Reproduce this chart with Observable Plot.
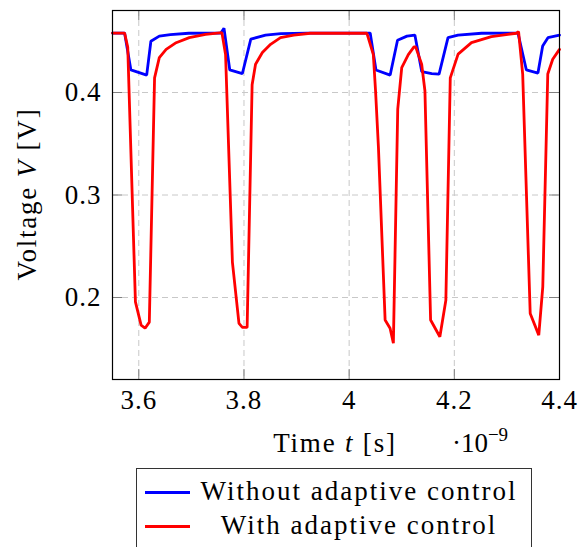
<!DOCTYPE html>
<html><head><meta charset="utf-8">
<script src="https://cdn.jsdelivr.net/npm/d3@7"></script>
<script src="https://cdn.jsdelivr.net/npm/@observablehq/plot@0.6"></script>
<style>
body{margin:0;background:#fff;}
#wrap{position:relative;width:579px;height:547px;overflow:hidden;font-family:'Liberation Serif',serif;background:#fff;}
#wrap svg{position:absolute;left:0;top:0;}
#legend{position:absolute;left:136px;top:468px;width:396px;height:110px;border:1px solid #333;padding-top:6px;box-sizing:border-box;background:#fff;}
.row{display:flex;align-items:center;height:34px;}
.sw{width:45px;height:3px;margin-left:8px;flex:none;}
.lt{width:330px;margin-left:4px;text-align:center;font-size:27px;line-height:34px;letter-spacing:2px;position:relative;top:-1px;white-space:nowrap;}
</style></head><body><div id="wrap"></div>
<script>
// Time in units of 1e-9 s, voltage in V
const tBlue = [3.55,3.573,3.585,3.615,3.623,3.639,3.66,3.695,3.756,3.762,3.773,3.797,3.813,3.841,3.87,3.92,4.04,4.051,4.078,4.092,4.11,4.125,4.138,4.157,4.171,4.188,4.207,4.252,4.321,4.337,4.359,4.368,4.378,4.4];
const vBlue = [0.458,0.458,0.422,0.417,0.450,0.455,0.4565,0.4578,0.458,0.4627,0.422,0.4185,0.452,0.456,0.4575,0.458,0.458,0.422,0.417,0.451,0.455,0.456,0.4204,0.4185,0.418,0.4535,0.456,0.4578,0.458,0.422,0.419,0.4454,0.4535,0.456];
const tRed = [3.55,3.573,3.579,3.5936,3.6044,3.612,3.620,3.630,3.639,3.652,3.671,3.696,3.727,3.758,3.765,3.778,3.7905,3.797,3.806,3.8155,3.822,3.835,3.8506,3.8695,3.8947,3.926,4.0337,4.046,4.0502,4.0557,4.0684,4.0778,4.0841,4.0924,4.100,4.1125,4.1233,4.1265,4.1379,4.1441,4.1549,4.1725,4.1839,4.1923,4.2072,4.2326,4.2705,4.3019,4.3178,4.3222,4.330,4.3443,4.3606,4.3682,4.3777,4.3871,4.398,4.4];
const vRed = [0.458,0.458,0.444,0.1957,0.173,0.170,0.176,0.4143,0.434,0.442,0.4486,0.4535,0.4568,0.4584,0.437,0.2346,0.1747,0.1708,0.1708,0.4075,0.4276,0.439,0.447,0.4535,0.456,0.4578,0.458,0.437,0.4017,0.3465,0.178,0.170,0.1553,0.3838,0.4243,0.437,0.4445,0.4445,0.4276,0.4017,0.178,0.1617,0.1974,0.4143,0.4374,0.4486,0.4545,0.4568,0.4578,0.4593,0.418,0.1844,0.1633,0.2103,0.418,0.4325,0.4406,0.442];
const xTicks = [3.6,3.8,4,4.2,4.4];
const yTicks = [0.2,0.3,0.4];
const seriesNames = ["Without adaptive control","With adaptive control"];
const seriesColors = ["#0000ff","#ff0000"];

const blue = tBlue.map((t,i)=>({t, v:vBlue[i]}));
const red = tRed.map((t,i)=>({t, v:vRed[i]}));

const plot = Plot.plot({
  width:579, height:465, marginLeft:112, marginRight:20, marginTop:10, marginBottom:86,
  style:{fontFamily:"'Liberation Serif', serif", fontSize:"27px", background:"transparent", overflow:"visible", color:"#000"},
  x:{domain:[3.55,4.4]},
  y:{domain:[0.12,0.48]},
  marks:[
    Plot.gridX(xTicks,{stroke:"#c8c8c8", strokeOpacity:1, strokeDasharray:"6,4"}),
    Plot.gridY(yTicks,{stroke:"#c8c8c8", strokeOpacity:1, strokeDasharray:"6,4"}),
    Plot.ruleX(xTicks,{x:d=>d, insetTop:359, stroke:"#808080"}),
    Plot.ruleX(xTicks,{x:d=>d, insetBottom:359, stroke:"#808080"}),
    Plot.ruleY(yTicks,{y:d=>d, insetRight:437, stroke:"#808080"}),
    Plot.ruleY(yTicks,{y:d=>d, insetLeft:437, stroke:"#808080"}),
    Plot.line(blue,{x:"t", y:"v", stroke:seriesColors[0], strokeWidth:2.8, strokeLinejoin:"miter"}),
    Plot.line(red,{x:"t", y:"v", stroke:seriesColors[1], strokeWidth:2.8, strokeLinejoin:"miter"}),
    Plot.frame({stroke:"#000", strokeWidth:1.2}),
    Plot.axisX(xTicks,{tickSize:0, tickPadding:10, tickFormat:d=> d===4 ? "4" : d.toFixed(1), label:null, fill:"#000"}),
    Plot.axisY(yTicks,{tickSize:0, tickPadding:11, tickFormat:d=>d.toFixed(1), label:null, fill:"#000"})
  ]
});

const svg = d3.select(plot);
svg.selectAll("g[aria-label='x-axis tick label'] text, g[aria-label='y-axis tick label'] text").style("letter-spacing","1px");
const xl = svg.append("text").attr("x",335).attr("y",451.5).attr("text-anchor","middle")
  .style("font-size","27px").style("letter-spacing","1.8px").attr("fill","#000");
xl.append("tspan").text("Time ");
xl.append("tspan").attr("font-style","italic").text("t");
xl.append("tspan").text(" [s]");
const ex = svg.append("text").attr("x",480).attr("y",451.5).attr("fill","#000").style("font-size","27px");
ex.append("tspan").text("·10");
ex.append("tspan").attr("dy",-11).style("font-size","19px").text("−9");
const yl = svg.append("text").attr("transform","translate(36,194) rotate(-90)").attr("text-anchor","middle")
  .style("font-size","27px").style("letter-spacing","1.8px").attr("fill","#000");
yl.append("tspan").text("Voltage ");
yl.append("tspan").attr("font-style","italic").text("V");
yl.append("tspan").text(" [V]");

const wrap = document.getElementById("wrap");
wrap.appendChild(plot);
const lg = document.createElement("div");
lg.id = "legend";
seriesNames.forEach((name,i)=>{
  const r = document.createElement("div"); r.className="row";
  const s = document.createElement("div"); s.className="sw"; s.style.background=seriesColors[i];
  const t = document.createElement("div"); t.className="lt"; t.textContent=name;
  r.appendChild(s); r.appendChild(t); lg.appendChild(r);
});
wrap.appendChild(lg);
</script></body></html>
